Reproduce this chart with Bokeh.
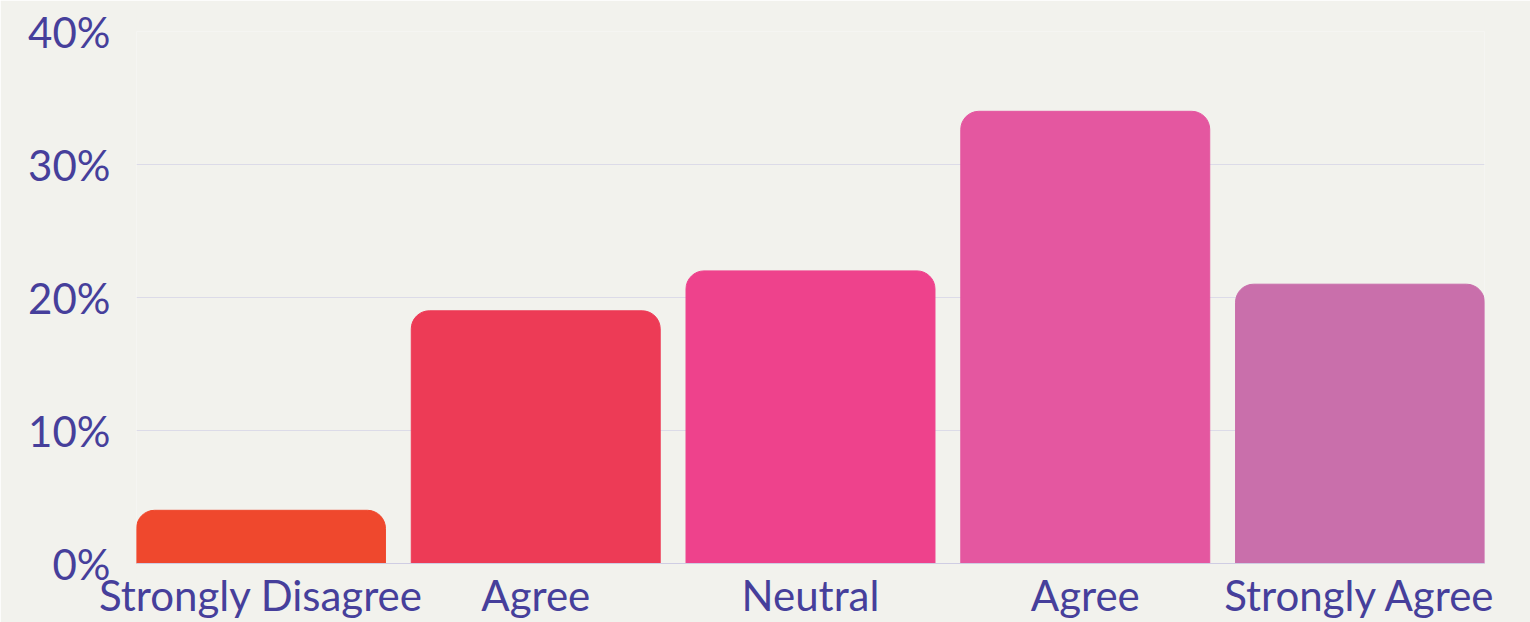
from bokeh.plotting import figure
from bokeh.models import ColumnDataSource, FixedTicker, Range1d
from bokeh.embed import file_html
from bokeh.resources import INLINE

categories = ["Strongly Disagree", "Agree", "Neutral", "Agree", "Strongly Agree"]
values = [4, 19, 22, 34, 21]
colors = ["#ef482d", "#ed3b56", "#ee428c", "#e457a0", "#c96fab"]
y_ticks = [0, 10, 20, 30, 40]

xs = list(range(len(categories)))
src = ColumnDataSource(dict(x=xs, top=values, color=colors))

BG = "#f2f2ed"
TXT = "#463f9b"

p = figure(width=1530, height=622, output_backend="svg", toolbar_location=None,
           x_range=Range1d(-0.453, len(categories) - 1 + 0.453), y_range=Range1d(0, 40),
           min_border_left=136, min_border_right=46, min_border_top=31, min_border_bottom=57,
           background_fill_color=BG, border_fill_color=BG)
p.outline_line_color = None

p.vbar(x="x", top="top", width=0.906, bottom=0, color="color", source=src,
       border_radius=(18, 18, 0, 0))

p.xgrid.grid_line_color = None
p.ygrid.grid_line_color = "#dcdbe8"
p.ygrid.ticker = FixedTicker(ticks=y_ticks)

p.yaxis.ticker = FixedTicker(ticks=y_ticks)
p.yaxis.major_label_overrides = {t: f"{t}%" for t in y_ticks}
p.yaxis.axis_line_color = None
p.yaxis.major_tick_line_color = None
p.yaxis.minor_tick_line_color = None
p.yaxis.major_tick_out = 0
p.yaxis.major_label_standoff = 26
p.yaxis.major_label_text_font = "Lato"
p.yaxis.major_label_text_font_size = "42px"
p.yaxis.major_label_text_color = TXT

p.xaxis.ticker = FixedTicker(ticks=xs)
p.xaxis.major_label_overrides = {i: c for i, c in enumerate(categories)}
p.xaxis.axis_line_color = "#cfcde3"
p.xaxis.major_tick_line_color = None
p.xaxis.minor_tick_line_color = None
p.xaxis.major_tick_out = 0
p.xaxis.major_label_standoff = 6
p.xaxis.major_label_text_font = "Lato"
p.xaxis.major_label_text_font_size = "42px"
p.xaxis.major_label_text_color = TXT

open("out.html", "w").write(file_html(p, INLINE))
